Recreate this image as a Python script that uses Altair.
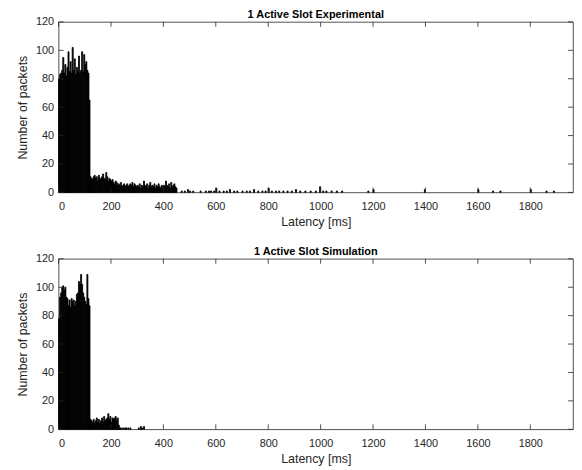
import altair as alt
import pandas as pd

BIN = 4  # ms per histogram bin

# ---- Experimental ----
exp_dense_start = 0
exp_dense = [80, 83, 84, 86, 95, 84, 90, 82, 88, 99, 85, 92, 84, 102, 86, 94, 83, 88, 85, 96,
             84, 86, 99, 85, 97, 90, 92, 86, 84, 65]
exp_tail_start = 120
exp_tail = [11, 10, 9, 11, 12, 10, 11, 8, 12, 10, 9, 11, 13, 10, 9, 14, 11, 8, 10, 9,
            8, 9, 7, 6, 8, 7, 5, 6, 5, 7, 4, 5, 6, 4, 5, 6, 4, 5, 6, 5, 7, 4, 6, 5, 4,
            5, 4, 6, 3, 5, 4, 8, 5, 4, 6, 3, 5, 7, 4, 5, 4, 6, 3, 5, 4, 6, 4, 3, 5, 4,
            5, 4, 8, 5, 4, 6, 3, 7, 4, 5, 6, 4, 3]
exp_sparse_start = [468, 480, 492, 500, 512, 540, 560, 572, 580, 592, 600, 612, 628, 640, 652,
                    668, 680, 700, 716, 728, 744, 760, 776, 788, 800, 812, 828, 840, 856, 872,
                    888, 904, 920, 940, 960, 980, 996, 1008, 1020, 1040, 1060, 1080, 1180,
                    1200, 1396, 1600, 1656, 1684, 1800, 1860, 1888]
exp_sparse_count = [1, 1, 2, 1, 1, 1, 1, 1, 1, 1, 3, 1, 1, 1, 2,
                    1, 1, 1, 1, 1, 2, 1, 1, 1, 3, 1, 1, 1, 1, 1,
                    1, 2, 1, 1, 1, 1, 4, 1, 1, 1, 1, 1, 1,
                    2, 2, 2, 1, 1, 2, 1, 1]

# ---- Simulation ----
sim_dense_start = 0
sim_dense = [78, 93, 96, 100, 101, 98, 100, 93, 92, 87, 91, 86, 92, 90, 91, 87, 90, 95, 96, 104,
             102, 109, 102, 96, 93, 90, 88, 109, 92, 87]
sim_tail_start = 120
sim_tail = [7, 6, 5, 7, 4, 6, 8, 5, 7, 4, 6, 8, 5, 9, 6, 7, 8, 11, 7, 9, 5, 8, 7, 8, 9, 6, 8, 3]
sim_sparse_start = [232, 236, 244, 252, 256, 264, 272, 304, 312, 316, 324]
sim_sparse_count = [1, 1, 1, 1, 1, 1, 1, 1, 2, 1, 2]

x_ticks = [0, 200, 400, 600, 800, 1000, 1200, 1400, 1600, 1800]
y_ticks = [0, 20, 40, 60, 80, 100, 120]
X_MAX = 1963
Y_MAX = 120

W, H = 519, 172
TL = 5  # tick length px
AX = "#262626"
FONT = "Liberation Sans"


def make_df(dense_start, dense, tail_start, tail, sp_start, sp_count):
    starts, counts = [], []
    for i, c in enumerate(dense):
        starts.append(dense_start + i * BIN)
        counts.append(c)
    for i, c in enumerate(tail):
        starts.append(tail_start + i * BIN)
        counts.append(c)
    starts += sp_start
    counts += sp_count
    df = pd.DataFrame({"start": starts, "count": counts})
    df["end"] = df["start"] + BIN
    df["base"] = 0
    return df


def panel(df, title):
    xs = alt.Scale(domain=[0, X_MAX], nice=False, zero=False)
    ys = alt.Scale(domain=[0, Y_MAX], nice=False)
    xa = alt.Axis(values=x_ticks, format="d", title="Latency [ms]", ticks=False, domain=False,
                  grid=False, labelPadding=8, titlePadding=4)
    ya = alt.Axis(values=y_ticks, format="d", title="Number of packets", ticks=False,
                  domain=False, grid=False, labelPadding=5, titlePadding=6)
    bars = alt.Chart(df).mark_rect(color="black", stroke="black", strokeWidth=0.8).encode(
        x=alt.X("start:Q", scale=xs, axis=xa),
        x2="end:Q",
        y=alt.Y("count:Q", scale=ys, axis=ya),
        y2="base:Q",
    )
    xt = pd.DataFrame({"v": x_ticks})
    yt = pd.DataFrame({"v": y_ticks})
    rule = dict(color=AX, strokeWidth=0.8)
    bt = alt.Chart(xt).mark_rule(**rule).encode(
        x=alt.X("v:Q", scale=xs, axis=xa), y=alt.value(H), y2=alt.value(H - TL))
    tt = alt.Chart(xt).mark_rule(**rule).encode(
        x=alt.X("v:Q", scale=xs, axis=xa), y=alt.value(0), y2=alt.value(TL))
    lt = alt.Chart(yt).mark_rule(**rule).encode(
        y=alt.Y("v:Q", scale=ys, axis=ya), x=alt.value(0), x2=alt.value(TL))
    rt = alt.Chart(yt).mark_rule(**rule).encode(
        y=alt.Y("v:Q", scale=ys, axis=ya), x=alt.value(W - TL), x2=alt.value(W))
    return alt.layer(bars, bt, tt, lt, rt).properties(
        width=W, height=H,
        title=alt.TitleParams(title, fontSize=11, fontWeight="bold", font=FONT,
                              color="black", offset=-4, anchor="middle", frame="group"),
    )


df_exp = make_df(exp_dense_start, exp_dense, exp_tail_start, exp_tail,
                 exp_sparse_start, exp_sparse_count)
df_sim = make_df(sim_dense_start, sim_dense, sim_tail_start, sim_tail,
                 sim_sparse_start, sim_sparse_count)

chart = alt.vconcat(
    panel(df_exp, "1 Active Slot Experimental"),
    panel(df_sim, "1 Active Slot Simulation"),
    spacing=17,
).properties(
    padding={"left": 8, "top": -2, "right": 0, "bottom": 0}
).configure_view(
    stroke=AX, strokeWidth=0.8
).configure_axis(
    labelFont=FONT, labelFontSize=11, labelColor=AX,
    titleFont=FONT, titleFontSize=12.5, titleFontWeight="normal", titleColor=AX,
)

chart.save("out.html", embed_options={"renderer": "svg", "actions": False})
